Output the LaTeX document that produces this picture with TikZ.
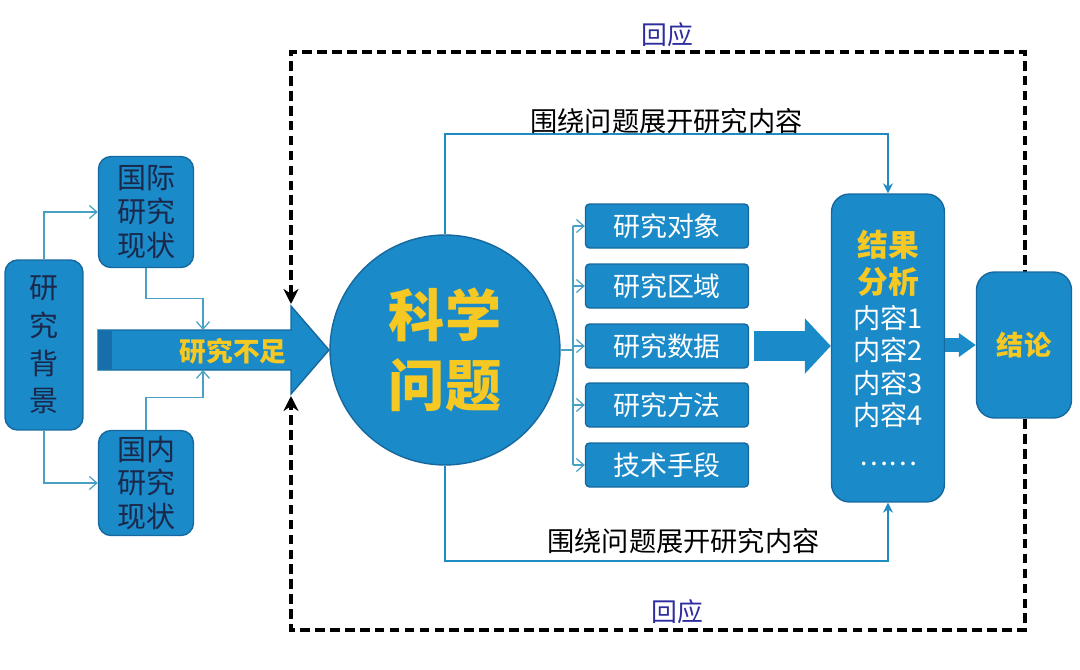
\documentclass[tikz,border=0pt]{standalone}
\usepackage{fontspec}
\setmainfont{Noto Sans CJK SC}
\usepackage{tikz}
\usetikzlibrary{arrows.meta, calc, positioning}

\definecolor{boxblue}{RGB}{27,138,200}
\definecolor{edgeblue}{RGB}{22,104,158}
\definecolor{stripeblue}{RGB}{22,110,170}
\definecolor{twigteal}{RGB}{72,160,195}
\definecolor{flowblue}{RGB}{30,140,195}
\definecolor{hiyellow}{RGB}{245,200,35}
\definecolor{navytext}{RGB}{25,40,75}
\definecolor{echoblue}{RGB}{45,45,160}

\begin{document}
\begin{tikzpicture}[x=0.02cm, y=-0.02cm, >=Stealth,
  leftbox/.style={draw=edgeblue, line width=0.8pt, fill=boxblue, rounded corners=0.25cm, align=center, inner sep=0pt, text=navytext},
  listbox/.style={draw=edgeblue, line width=0.8pt, fill=boxblue, rounded corners=0.08cm, minimum width=3.26cm, minimum height=0.88cm, inner sep=0pt, text=white, font=\fontsize{15.3}{18}\selectfont},
  bigbox/.style={draw=edgeblue, line width=0.8pt, fill=boxblue, rounded corners=0.36cm, align=center, inner sep=0pt},
  twig/.style={draw=twigteal, line width=0.7pt},
  twigarrow/.style={twig, -{Straight Barb[length=1.5mm, width=2.6mm]}},
  flow/.style={draw=flowblue, line width=1.2pt, -{Stealth[length=2mm, width=2mm]}},
  echo/.style={draw=black, line width=1.9pt, dash pattern=on 5.5pt off 3pt, {Stealth[length=3mm, width=3mm]}-{Stealth[length=3mm, width=3mm]}},
  tagtext/.style={font=\fontsize{15.5}{18}\selectfont, text=black}]
  \useasboundingbox (0,0) rectangle (1080,670);

  % points on the big arrow
  \coordinate (gaptop) at (203,330);
  \coordinate (gapbot) at (203,370);
  \coordinate (headtop) at (291,304);
  \coordinate (headbot) at (291,396);
  \coordinate (spine) at (573,0);

  % dashed feedback frame
  \draw[echo] (headtop) -- (291,52) -- (1025,52) -- (1025,630) -- (291,630) -- (headbot);
  \node[font=\fontsize{14.7}{17}\selectfont, text=echoblue] (echotop) at (667,35) {回应};
  \node[font=\fontsize{14.7}{17}\selectfont, text=echoblue] (echobot) at (677,612) {回应};

  % background
  \node[leftbox, minimum width=1.56cm, minimum height=3.4cm, font=\fontsize{16.5}{21.5}\selectfont] (bg) at (44,345) {研\\究\\背\\景};
  \node[leftbox, minimum width=1.9cm, minimum height=2.22cm, font=\fontsize{16.5}{19.3}\selectfont] (intl) at (146,212) {国际\\研究\\现状};
  \node[leftbox, minimum width=1.9cm, minimum height=2.1cm, font=\fontsize{16.5}{19.3}\selectfont] (dom) at (146,483) {国内\\研究\\现状};

  \fill[boxblue, draw=edgeblue, line width=0.8pt] (98,330) -- (291,330) -- (291,306) -- (329,350) -- (291,394) -- (291,370) -- (98,370) -- cycle;
  \fill[stripeblue] (99,331) rectangle (112,369);
  \node[font=\fontsize{15.2}{18}\selectfont\bfseries, text=hiyellow] (gaptxt) at (233,351) {研究不足};

  \draw[twigarrow] (bg.north) |- (intl.west);
  \draw[twigarrow] (bg.south) |- (dom.west);
  \draw[twigarrow] (intl.south) -- ++(0,30) -| (gaptop);
  \draw[twigarrow] (dom.north) -- ++(0,-32) -| (gapbot);

  % question
  \node[circle, fill=boxblue, draw=edgeblue, line width=0.8pt, minimum size=4.6cm, inner sep=0pt, align=center, text=hiyellow, font=\fontsize{32}{39.7}\selectfont\bfseries] (q) at (445,350) {科学\\问题};

  % research items
  \node[listbox] (obj) at (667,226) {研究对象};
  \node[listbox] (area) at (667,286) {研究区域};
  \node[listbox] (data) at (667,346) {研究数据};
  \node[listbox] (meth) at (667,405) {研究方法};
  \node[listbox] (tech) at (667,465) {技术手段};

  \draw[twig] (q.east) -- (q.east -| spine);
  \draw[twig] (spine |- obj.west) -- (spine |- tech.west);
  \foreach \item in {obj, area, data, meth, tech}
    \draw[twigarrow] (spine |- \item.west) -- (\item.west);

  % results and conclusion
  \node[bigbox, minimum width=2.26cm, minimum height=6.16cm, text=white, font=\fontsize{15.5}{18.4}\selectfont] (res) at (888,348)
    {{\color{hiyellow}\bfseries\fontsize{17.5}{20}\selectfont 结果}\\[2.6pt]{\color{hiyellow}\bfseries\fontsize{17.5}{20}\selectfont 分析}\\[1.4pt]内容1\\内容2\\内容3\\内容4\\[4.3pt]……};
  \node[bigbox, minimum width=1.9cm, minimum height=2.92cm, text=hiyellow, font=\fontsize{15.5}{18}\selectfont\bfseries] (concl) at (1024,345) {结论};

  \draw[boxblue, line width=0.6cm, -{Triangle[length=0.52cm, width=1.08cm]}] ([xshift=0.1cm]data.east) -- (res.west |- data.east);
  \draw[boxblue, line width=0.27cm, -{Triangle[length=0.34cm, width=0.46cm]}] (res.east |- concl.west) -- (concl.west);

  \draw[flow] (q.north) -- ++(0,-100) -| (res.north) node[pos=0.25, above, tagtext, yshift=-0.12cm] {围绕问题展开研究内容};
  \draw[flow] (q.south) -- ++(0,95) -| (res.south) node[pos=0.25, above, tagtext, xshift=0.34cm] {围绕问题展开研究内容};
\end{tikzpicture}
\end{document}
